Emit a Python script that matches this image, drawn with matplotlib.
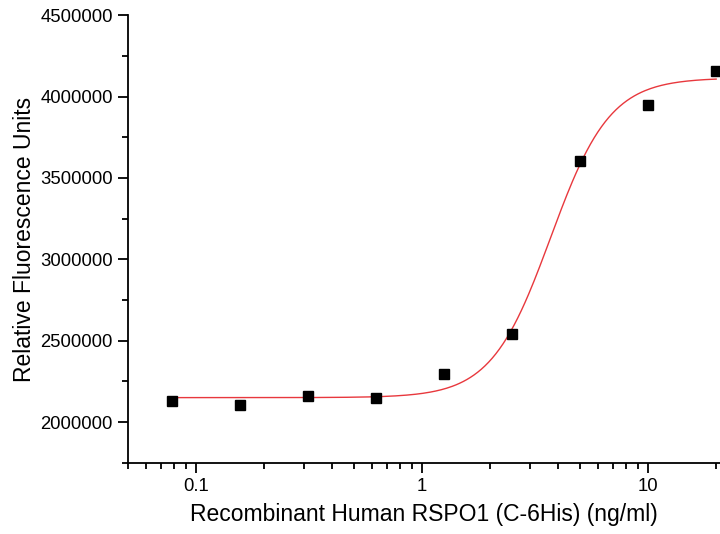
import numpy as np
import matplotlib
matplotlib.use("Agg")
import matplotlib.pyplot as plt
from matplotlib.ticker import FixedLocator, LogLocator, NullFormatter, MultipleLocator

plt.rcParams['font.family'] = ['Liberation Sans', 'DejaVu Sans']

# dose (ng/ml) and response (RFU)
conc = [0.078, 0.156, 0.3125, 0.625, 1.25, 2.5, 5, 10, 20]
rfu = [2129000, 2105000, 2160000, 2148000, 2295000, 2541000, 3606000, 3949000, 4160000]

# 4-parameter logistic fit parameters
bottom, top, ec50, hill = 2150000, 4115000, 3.7, 3.3

xfit = np.logspace(np.log10(conc[0]), np.log10(conc[-1]), 300)
yfit = bottom + (top - bottom) / (1 + (ec50 / xfit) ** hill)

fig = plt.figure(figsize=(7.2, 5.34), dpi=100)
ax = fig.add_axes([0.178, 0.1335, 0.822, 0.838])

ax.plot(xfit, yfit, color='#e8383d', lw=1.0, zorder=2)
ax.plot(conc, rfu, 's', color='black', ms=7, zorder=3)

ax.set_xscale('log')
ax.set_xlim(0.05, 20.8)
ax.set_ylim(1750000, 4500000)

ax.xaxis.set_major_locator(FixedLocator([0.1, 1, 10]))
ax.set_xticklabels(['0.1', '1', '10'])
ax.xaxis.set_minor_locator(LogLocator(base=10, subs=np.arange(2, 10)))
ax.xaxis.set_minor_formatter(NullFormatter())
ax.yaxis.set_major_locator(FixedLocator([2000000, 2500000, 3000000, 3500000, 4000000, 4500000]))
ax.set_yticklabels(['2000000', '2500000', '3000000', '3500000', '4000000', '4500000'])
ax.yaxis.set_minor_locator(MultipleLocator(250000))

for s in ['top', 'right']:
    ax.spines[s].set_visible(False)
for s in ['left', 'bottom']:
    ax.spines[s].set_linewidth(1.3)

ax.tick_params(which='major', direction='out', length=7, width=1.3, labelsize=13.3)
ax.tick_params(axis='y', which='major', pad=4)
ax.tick_params(axis='x', which='major', pad=4)
ax.tick_params(which='minor', direction='out', length=4, width=1.3)

ax.set_xlabel('Recombinant Human RSPO1 (C-6His) (ng/ml)', fontsize=16.5, labelpad=6)
ax.set_ylabel('Relative Fluorescence Units', fontsize=16.5, labelpad=3)

fig.savefig('out.png', dpi=100)
